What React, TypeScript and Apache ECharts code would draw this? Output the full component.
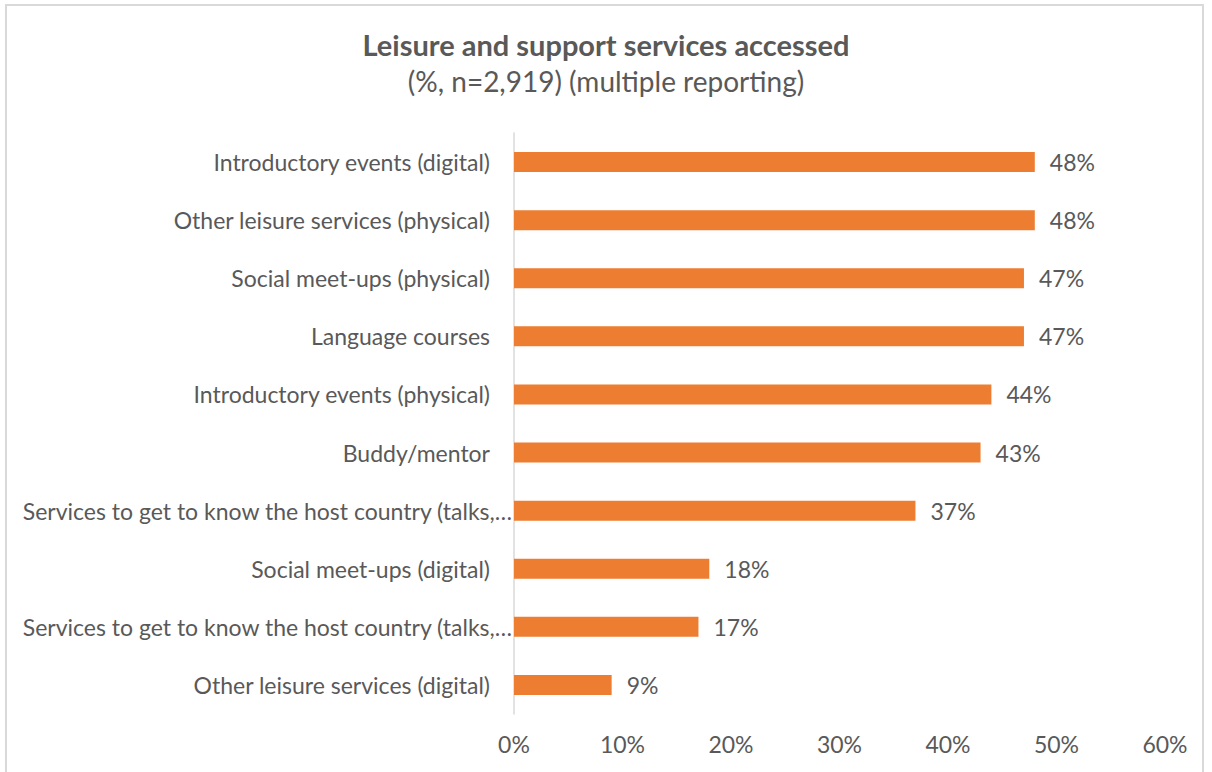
import React, { useEffect, useRef } from "react";
import * as echarts from "echarts";

const categories = [
  "Introductory events (digital)",
  "Other leisure services (physical)",
  "Social meet-ups (physical)",
  "Language courses",
  "Introductory events (physical)",
  "Buddy/mentor",
  "Services to get to know the host country (talks,…",
  "Social meet-ups (digital)",
  "Services to get to know the host country (talks,…",
  "Other leisure services (digital)",
];
const values = [48, 48, 47, 47, 44, 43, 37, 18, 17, 9];
const titleText = "Leisure and support services accessed";
const subtitleText = "(%, n=2,919) (multiple reporting)";

const FONT = "Lato, 'Open Sans', sans-serif";
const GRAY = "#595959";

export default function App() {
  const ref = useRef<HTMLDivElement>(null);
  useEffect(() => {
    if (!ref.current) return;
    const chart = echarts.init(ref.current, null, { renderer: "svg" });
    chart.setOption({
      animation: false,
      backgroundColor: "#ffffff",
      textStyle: { fontFamily: FONT },
      title: {
        text: titleText,
        subtext: subtitleText,
        left: "center",
        top: 25,
        itemGap: 8,
        textStyle: { fontFamily: FONT, fontSize: 29, fontWeight: "bold", color: GRAY },
        subtextStyle: { fontFamily: FONT, fontSize: 28, color: GRAY },
      },
      graphic: [
        {
          type: "rect",
          shape: { x: 6, y: 5, width: 1197, height: 820 },
          style: { fill: "none", stroke: "#d9d9d9", lineWidth: 2 },
          silent: true,
        },
      ],
      grid: { left: 514, right: 47, top: 133, bottom: 58, containLabel: false },
      xAxis: {
        type: "value",
        min: 0,
        max: 60,
        interval: 10,
        axisLine: { show: false },
        axisTick: { show: false },
        splitLine: { show: false },
        axisLabel: {
          formatter: "{value}%",
          color: GRAY,
          fontSize: 23,
          fontFamily: FONT,
          margin: 18,
        },
      },
      yAxis: {
        type: "category",
        inverse: true,
        data: categories,
        axisLine: { show: true, lineStyle: { color: "#d9d9d9", width: 1.5 } },
        axisTick: { show: false },
        axisLabel: {
          color: GRAY,
          fontSize: 23,
          fontFamily: FONT,
          margin: 24,
          formatter: (v: string) => (v.endsWith("…") ? "{long|" + v + "}" : v),
          rich: {
            long: {
              color: GRAY,
              fontSize: 23,
              fontFamily: FONT,
              padding: [0, -22, 0, 0],
            },
          },
        },
      },
      series: [
        {
          type: "bar",
          data: values,
          barWidth: 20,
          itemStyle: { color: "#ED7D31" },
          label: {
            show: true,
            position: "right",
            distance: 15,
            formatter: "{c}%",
            color: GRAY,
            fontSize: 23,
            fontFamily: FONT,
          },
        },
      ],
    });
    return () => chart.dispose();
  }, []);
  return (
    <div
      ref={ref}
      style={{ position: "fixed", left: 0, top: 0, width: 1212, height: 772 }}
    />
  );
}
